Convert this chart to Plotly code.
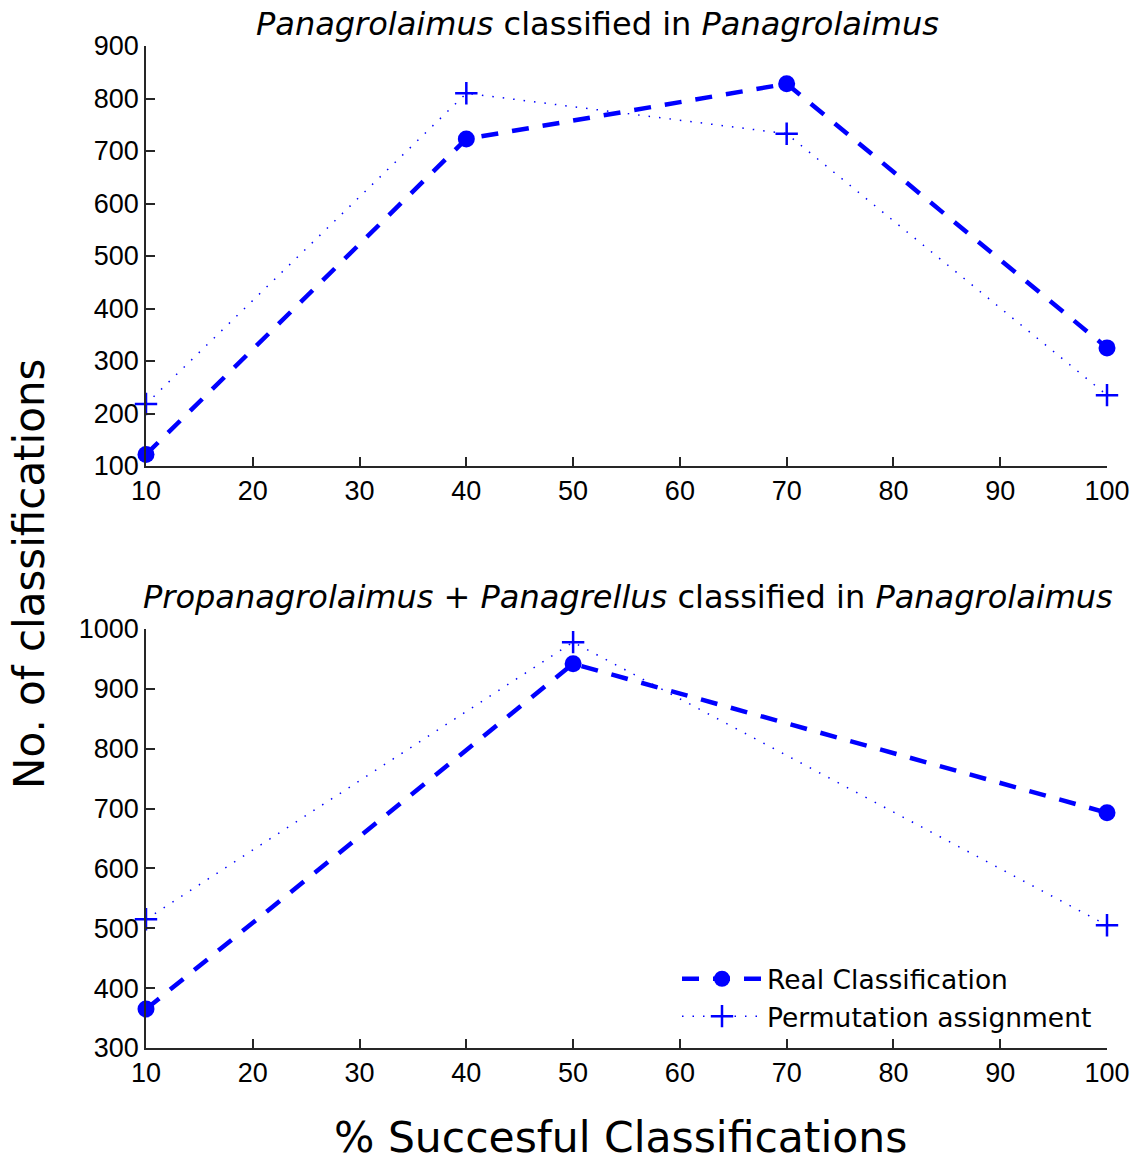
import plotly.graph_objects as go

W, H = 1136, 1162

# Top panel data
top_x = [10, 40, 70, 100]
top_real = [122, 723, 828, 325]
top_perm = [218, 810, 733, 235]

# Bottom panel data
bot_x = [10, 50, 100]
bot_real = [365, 942, 693]
bot_perm = [515, 978, 505]

x_ticks = [10, 20, 30, 40, 50, 60, 70, 80, 90, 100]
top_yticks = [100, 200, 300, 400, 500, 600, 700, 800, 900]
bot_yticks = [300, 400, 500, 600, 700, 800, 900, 1000]

BLUE = "#0000ff"
AX = "#262626"

def px(x):
    return x / W

def py(y):
    return 1 - y / H

fig = go.Figure()

real_style = dict(mode="lines+markers", line=dict(color=BLUE, width=4.5, dash="17px,14px"),
                  marker=dict(symbol="circle", size=17, color=BLUE), cliponaxis=False)
perm_style = dict(mode="lines+markers", line=dict(color=BLUE, width=1.5, dash="1.5px,9px"),
                  marker=dict(symbol="cross-thin", size=16, line=dict(color=BLUE, width=2.5)),
                  cliponaxis=False)

fig.add_trace(go.Scatter(x=top_x, y=top_real, xaxis="x", yaxis="y", showlegend=False, **real_style))
fig.add_trace(go.Scatter(x=top_x, y=top_perm, xaxis="x", yaxis="y", showlegend=False, **perm_style))
fig.add_trace(go.Scatter(x=bot_x, y=bot_real, xaxis="x2", yaxis="y2", name="Real Classification", **real_style))
fig.add_trace(go.Scatter(x=bot_x, y=bot_perm, xaxis="x2", yaxis="y2", name="Permutation assignment", **perm_style))

tickfont = dict(family="Liberation Sans, Arial, sans-serif", size=27, color="black")
axis_common = dict(showline=True, linecolor=AX, linewidth=1.5, ticks="inside", ticklen=9,
                   tickcolor=AX, tickwidth=1.5, showgrid=False, zeroline=False, tickfont=tickfont,
                   mirror=False, automargin=False)

xdom = [px(146), px(1107)]
fig.update_layout(
    width=W, height=H,
    margin=dict(l=0, r=0, t=0, b=0, autoexpand=False),
    paper_bgcolor="white", plot_bgcolor="white",
    xaxis=dict(domain=xdom, range=[10, 100], tickvals=x_ticks, anchor="y", **axis_common),
    yaxis=dict(domain=[py(466), py(46)], range=[100, 900], tickvals=top_yticks, anchor="x", **axis_common),
    xaxis2=dict(domain=xdom, range=[10, 100], tickvals=x_ticks, anchor="y2", **axis_common),
    yaxis2=dict(domain=[py(1048), py(629)], range=[300, 1000], tickvals=bot_yticks, anchor="x2", **axis_common),
    legend=dict(x=px(677), y=py(955), xanchor="left", yanchor="top",
                font=dict(family="DejaVu Sans", size=26.5, color="black"),
                bgcolor="rgba(255,255,255,0)", itemwidth=80, tracegroupgap=0),
    font=dict(family="DejaVu Sans"),
)

titlefont = dict(family="DejaVu Sans", size=32, color="black")
fig.add_annotation(x=px(597), y=py(24), xref="paper", yref="paper", showarrow=False,
                   text="<i>Panagrolaimus</i> classified in <i>Panagrolaimus</i>", font=titlefont,
                   xanchor="center", yanchor="middle")
fig.add_annotation(x=px(628), y=py(597), xref="paper", yref="paper", showarrow=False,
                   text="<i>Propanagrolaimus</i> + <i>Panagrellus</i> classified in <i>Panagrolaimus</i>",
                   font=titlefont, xanchor="center", yanchor="middle")
fig.add_annotation(x=px(30), y=py(574), xref="paper", yref="paper", showarrow=False,
                   text="No. of classifications", textangle=-90,
                   font=dict(family="DejaVu Sans", size=42, color="black"),
                   xanchor="center", yanchor="middle")
fig.add_annotation(x=px(620), y=py(1137), xref="paper", yref="paper", showarrow=False,
                   text="% Succesful Classifications",
                   font=dict(family="DejaVu Sans", size=42.5, color="black"),
                   xanchor="center", yanchor="middle")

fig.write_html("out.html", config={"displayModeBar": False},
               post_script="document.body.style.margin='0';")
